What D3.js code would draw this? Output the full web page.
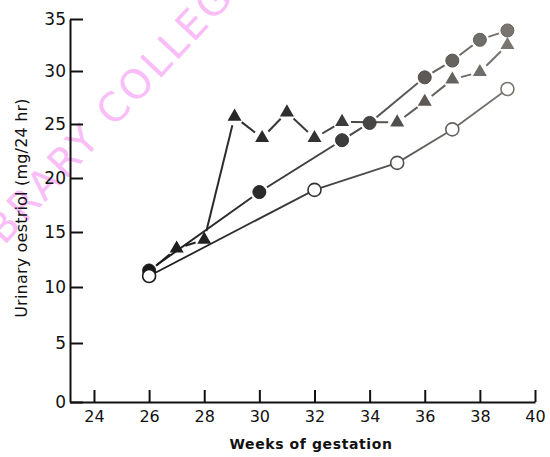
<!DOCTYPE html>
<html>
<head>
<meta charset="utf-8">
<script src="https://cdn.jsdelivr.net/npm/d3@7"></script>
<style>
  body { margin: 0; background: #fff; }
  svg { display: block; }
  .tick text { font-family: "DejaVu Sans", sans-serif; fill: #111; }
  .title { font-family: "DejaVu Sans", sans-serif; fill: #111; }
</style>
</head>
<body>
<div id="chart"></div>
<script>
// ── data (weeks of gestation vs urinary oestriol, mg/24 hr) ──
const openWeeks = [26, 32, 35, 37, 39];
const openValues = [11.0, 18.9, 21.4, 24.5, 28.3];

const filledWeeks = [26, 30, 33, 34, 36, 37, 38, 39];
const filledValues = [11.5, 18.7, 23.5, 25.1, 29.4, 31.0, 33.0, 33.9];

const triWeeks = [26, 27, 28, 29.1, 30.1, 31, 32, 33, 35, 36, 37, 38, 39];
const triValues = [11.4, 13.5, 14.3, 25.7, 23.7, 26.1, 23.7, 25.2, 25.15, 27.1, 29.2, 29.9, 32.5];

const xTicks = [24, 26, 28, 30, 32, 34, 36, 38, 40];
const yTicks = [0, 5, 10, 15, 20, 25, 30, 35];

const width = 550, height = 457;

const svg = d3.select("#chart").append("svg")
  .attr("width", width)
  .attr("height", height);

// watermark
svg.append("text")
  .attr("transform", "translate(4,246) rotate(-47)")
  .attr("font-family", "DejaVu Sans, sans-serif")
  .attr("font-size", 40)
  .attr("letter-spacing", 3)
  .attr("fill", "#f9bdf7")
  .text("BRARY COLLEG");

// scales — the printed y axis is slightly stretched toward the bottom
const x = d3.scaleLinear().domain([23.13, 40]).range([70, 535]);
const y = d3.scaleLinear()
  .domain(yTicks)
  .range([402, 343, 287, 232, 178, 124, 71, 19]);

const shade = d3.scaleLinear()
  .domain([26, 32, 39])
  .range(["#1a1a1a", "#333", "#7a7570"]);

// fading ink for the lines
const grad = svg.append("defs").append("linearGradient")
  .attr("id", "ink")
  .attr("gradientUnits", "userSpaceOnUse")
  .attr("x1", x(26)).attr("x2", x(39))
  .attr("y1", 0).attr("y2", 0);
grad.append("stop").attr("offset", 0).attr("stop-color", "#1c1c1c");
grad.append("stop").attr("offset", 0.4).attr("stop-color", "#3a3a3a");
grad.append("stop").attr("offset", 1).attr("stop-color", "#7a7672");

// axes
const yAxis = d3.axisLeft(y)
  .tickValues(yTicks)
  .tickSizeInner(-13)
  .tickSizeOuter(0)
  .tickPadding(4);

const xAxis = d3.axisBottom(x)
  .tickValues(xTicks)
  .tickSizeInner(-12)
  .tickSizeOuter(0)
  .tickPadding(9);

const gy = svg.append("g")
  .attr("transform", `translate(${x.range()[0]},0)`)
  .call(yAxis);
gy.selectAll("text").attr("font-size", 17);

const gx = svg.append("g")
  .attr("transform", `translate(0,${y(0)})`)
  .call(xAxis);
gx.selectAll("text").attr("font-size", 16);

[gx, gy].forEach(g => {
  g.select(".domain").attr("stroke", "#111").attr("stroke-width", 2);
  g.selectAll(".tick line").attr("stroke", "#111").attr("stroke-width", 2);
});

// axis titles
svg.append("text")
  .attr("class", "title")
  .attr("x", 311)
  .attr("y", 449)
  .attr("text-anchor", "middle")
  .attr("font-size", 14)
  .attr("font-weight", "bold")
  .attr("letter-spacing", 0.6)
  .text("Weeks of gestation");

svg.append("text")
  .attr("class", "title")
  .attr("transform", "translate(27,208) rotate(-90)")
  .attr("text-anchor", "middle")
  .attr("font-size", 16)
  .attr("letter-spacing", 0.2)
  .text("Urinary oestriol (mg/24 hr)");

// ── series ──
const toPoints = (weeks, values) => weeks.map((w, i) => ({ w, v: values[i] }));
const openPts = toPoints(openWeeks, openValues);
const filledPts = toPoints(filledWeeks, filledValues);
const triPts = toPoints(triWeeks, triValues);

// broken lines: each segment stops short of the markers
function drawBroken(points, gap) {
  const segs = d3.pairs(points).map(([a, b]) => {
    const x1 = x(a.w), y1 = y(a.v), x2 = x(b.w), y2 = y(b.v);
    const len = Math.hypot(x2 - x1, y2 - y1);
    const ux = (x2 - x1) / len, uy = (y2 - y1) / len;
    return { x1: x1 + ux * gap, y1: y1 + uy * gap, x2: x2 - ux * gap, y2: y2 - uy * gap };
  });
  svg.append("g").selectAll("line")
    .data(segs)
    .join("line")
    .attr("x1", d => d.x1).attr("y1", d => d.y1)
    .attr("x2", d => d.x2).attr("y2", d => d.y2)
    .attr("stroke", "url(#ink)")
    .attr("stroke-width", 2);
}

const line = d3.line().x(d => x(d.w)).y(d => y(d.v));

svg.append("path")
  .datum(openPts)
  .attr("d", line)
  .attr("fill", "none")
  .attr("stroke", "url(#ink)")
  .attr("stroke-width", 1.8);

drawBroken(triPts, 9);
drawBroken(filledPts, 9);

svg.append("g").selectAll("path")
  .data(triPts)
  .join("path")
  .attr("transform", d => `translate(${x(d.w)},${y(d.v)})`)
  .attr("d", d3.symbol(d3.symbolTriangle, 85))
  .attr("fill", d => shade(d.w));

svg.append("g").selectAll("circle")
  .data(filledPts)
  .join("circle")
  .attr("cx", d => x(d.w))
  .attr("cy", d => y(d.v))
  .attr("r", 6.5)
  .attr("fill", d => shade(d.w))
  .attr("stroke", d => d3.color(shade(d.w)).darker(0.4))
  .attr("stroke-width", 1);

svg.append("g").selectAll("circle")
  .data(openPts)
  .join("circle")
  .attr("cx", d => x(d.w))
  .attr("cy", d => y(d.v))
  .attr("r", 6.5)
  .attr("fill", "#fff")
  .attr("stroke", d => shade(d.w))
  .attr("stroke-width", 1.6);
</script>
</body>
</html>
